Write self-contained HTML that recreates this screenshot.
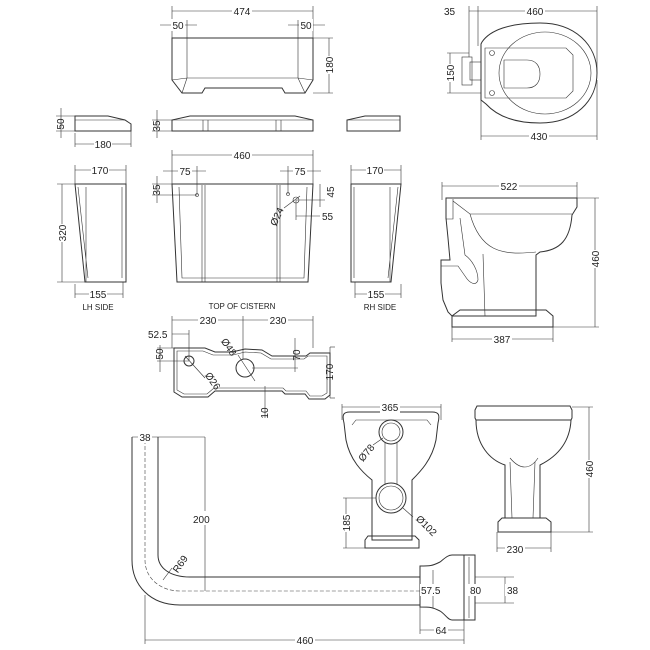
<!DOCTYPE html>
<html><head><style>
html,body{margin:0;padding:0;background:#fff;}
svg{display:block;}
text{font-family:"Liberation Sans",sans-serif;font-size:10px;fill:#222;}
.s{fill:none;stroke:#333;stroke-width:1;}
.t{fill:none;stroke:#333;stroke-width:0.6;}
.d{fill:none;stroke:#444;stroke-width:0.6;stroke-dasharray:4,2;}
</style></head><body>
<svg width="650" height="650" viewBox="0 0 650 650">
<!-- cistern lid top view -->
<path class="s" d="M172,38 H313 V80 L305,93 H285 L282,88 H205 L202,93 H182 L172,80 Z"/>
<path class="t" d="M187,38 V78 H298 V38 M187,78 L172,80 M298,78 L313,80 M187,78 L182,93 M298,78 L305,93"/>
<line class="t" x1="172" y1="11" x2="313" y2="11"/><line class="t" x1="172" y1="6" x2="172" y2="38"/><line class="t" x1="313" y1="6" x2="313" y2="38"/>
<rect x="232" y="5" width="20" height="12" fill="#fff"/><text x="242" y="15" text-anchor="middle">474</text>
<line class="t" x1="160" y1="25" x2="197" y2="25"/><line class="t" x1="187" y1="20" x2="187" y2="38"/><rect x="171" y="19" width="14" height="12" fill="#fff"/><text x="178" y="29" text-anchor="middle">50</text>
<line class="t" x1="288" y1="25" x2="325" y2="25"/><line class="t" x1="298" y1="20" x2="298" y2="38"/><rect x="299" y="19" width="14" height="12" fill="#fff"/><text x="306" y="29" text-anchor="middle">50</text>
<line class="t" x1="313" y1="38" x2="333" y2="38"/><line class="t" x1="313" y1="93" x2="333" y2="93"/><line class="t" x1="329" y1="38" x2="329" y2="93"/>
<rect x="323" y="56" width="12" height="18" fill="#fff"/><text transform="translate(333,65) rotate(-90)" text-anchor="middle">180</text>
<!-- lid side views -->
<path class="s" d="M75,131 V116 H108 L125,120 L131,124 V131 Z"/><line class="t" x1="75" y1="120" x2="125" y2="120"/>
<line class="t" x1="61" y1="108" x2="61" y2="138"/><line class="t" x1="56" y1="116" x2="75" y2="116"/><line class="t" x1="56" y1="131" x2="75" y2="131"/>
<text transform="translate(64,124) rotate(-90)" text-anchor="middle">50</text>
<line class="t" x1="75" y1="144" x2="131" y2="144"/><line class="t" x1="75" y1="133" x2="75" y2="147"/><line class="t" x1="131" y1="126" x2="131" y2="147"/>
<rect x="94" y="138" width="18" height="12" fill="#fff"/><text x="103" y="148" text-anchor="middle">180</text>
<path class="s" d="M172,131 V120 L190,116 H295 L313,120 V131 Z"/><line class="t" x1="172" y1="120" x2="313" y2="120"/>
<line class="t" x1="203" y1="120" x2="203" y2="131"/><line class="t" x1="208" y1="120" x2="208" y2="131"/><line class="t" x1="276" y1="120" x2="276" y2="131"/><line class="t" x1="281" y1="120" x2="281" y2="131"/>
<line class="t" x1="157" y1="110" x2="157" y2="138"/><line class="t" x1="152" y1="120" x2="172" y2="120"/><line class="t" x1="152" y1="131" x2="172" y2="131"/>
<text transform="translate(160,126) rotate(-90)" text-anchor="middle">35</text>
<path class="s" d="M347,131 V120 L365,116 H400 V131 Z"/><line class="t" x1="347" y1="120" x2="400" y2="120"/>
<!-- cistern front -->
<path class="s" d="M172,184 H313 L308,282 H177 Z"/>
<path class="t" d="M179,187 L182,278 H304 L307,187 M202,185 V282 M205,185 V282 M277,185 V282 M280,185 V282 M205,278 H277"/>
<circle class="t" cx="197" cy="195" r="1.5"/><circle class="t" cx="288" cy="194" r="1.5"/><circle class="t" cx="296" cy="200" r="3"/>
<line class="t" x1="172" y1="155" x2="313" y2="155"/><line class="t" x1="172" y1="150" x2="172" y2="184"/><line class="t" x1="313" y1="150" x2="313" y2="184"/>
<rect x="232" y="149" width="20" height="12" fill="#fff"/><text x="242" y="159" text-anchor="middle">460</text>
<line class="t" x1="163" y1="171" x2="206" y2="171"/><line class="t" x1="197" y1="166" x2="197" y2="195"/><rect x="178" y="165" width="14" height="12" fill="#fff"/><text x="185" y="175" text-anchor="middle">75</text>
<line class="t" x1="280" y1="171" x2="321" y2="171"/><line class="t" x1="288" y1="166" x2="288" y2="194"/><rect x="293" y="165" width="14" height="12" fill="#fff"/><text x="300" y="175" text-anchor="middle">75</text>
<line class="t" x1="157" y1="176" x2="157" y2="203"/><line class="t" x1="152" y1="184" x2="172" y2="184"/><line class="t" x1="152" y1="195" x2="197" y2="195"/>
<text transform="translate(160,190) rotate(-90)" text-anchor="middle">35</text>
<line class="t" x1="320" y1="184" x2="320" y2="207"/><line class="t" x1="296" y1="200" x2="325" y2="200"/>
<text transform="translate(334,192) rotate(-90)" text-anchor="middle">45</text>
<line class="t" x1="296" y1="200" x2="296" y2="220"/><line class="t" x1="296" y1="216" x2="320" y2="216"/><text x="322" y="220">55</text>
<line class="t" x1="284" y1="208" x2="300" y2="196"/>
<text transform="translate(280,218) rotate(-65)" text-anchor="middle">Ø24</text>
<!-- LH side -->
<path class="s" d="M75,184 H126 V282 H85 Z"/><path class="t" d="M78,187 L88,278 M86,187 V282 M122,187 V278"/>
<line class="t" x1="75" y1="170" x2="126" y2="170"/><line class="t" x1="75" y1="165" x2="75" y2="184"/><line class="t" x1="126" y1="165" x2="126" y2="184"/>
<rect x="91" y="164" width="18" height="12" fill="#fff"/><text x="100" y="174" text-anchor="middle">170</text>
<line class="t" x1="62" y1="184" x2="62" y2="282"/><line class="t" x1="57" y1="184" x2="75" y2="184"/><line class="t" x1="57" y1="282" x2="85" y2="282"/>
<rect x="56" y="224" width="12" height="18" fill="#fff"/><text transform="translate(66,233) rotate(-90)" text-anchor="middle">320</text>
<line class="t" x1="75" y1="294" x2="123" y2="294"/><line class="t" x1="75" y1="284" x2="75" y2="298"/><line class="t" x1="123" y1="282" x2="123" y2="298"/>
<rect x="89" y="288" width="18" height="12" fill="#fff"/><text x="98" y="298" text-anchor="middle">155</text>
<text x="98" y="310" text-anchor="middle" style="font-size:8px">LH SIDE</text>
<text x="242" y="309" text-anchor="middle" style="font-size:8px">TOP OF CISTERN</text>
<text x="380" y="310" text-anchor="middle" style="font-size:8px">RH SIDE</text>
<!-- RH side -->
<path class="s" d="M351,184 H401 L391,282 H351 Z"/><path class="t" d="M354,187 V278 M390,187 V282 M398,187 L388,278"/>
<line class="t" x1="351" y1="170" x2="401" y2="170"/><line class="t" x1="351" y1="165" x2="351" y2="184"/><line class="t" x1="401" y1="165" x2="401" y2="184"/>
<rect x="366" y="164" width="18" height="12" fill="#fff"/><text x="375" y="174" text-anchor="middle">170</text>
<line class="t" x1="355" y1="294" x2="401" y2="294"/><line class="t" x1="355" y1="282" x2="355" y2="298"/><line class="t" x1="401" y1="284" x2="401" y2="298"/>
<rect x="367" y="288" width="18" height="12" fill="#fff"/><text x="376" y="298" text-anchor="middle">155</text>
<!-- top of cistern plan -->
<path class="s" d="M174,348 H205 L215,352 H232 L245,349 L262,350 L272,356 H306 L310,353 H330 V395 L325,399 L309,399 L305,394 H285 L282,391 H215 L208,397 H182 L174,392 Z"/>
<path class="t" d="M177,351 H203 L213,355 H233 L245,352 L261,353 L271,359 H304 L308,356 H327 V393 L322,396 H310 L306,391 H286 L283,388 H214 L207,394 H184 L177,390 Z"/>
<circle class="s" cx="189" cy="361" r="5"/><circle class="s" cx="245" cy="368" r="9"/>
<line class="t" x1="172" y1="320" x2="313" y2="320"/><line class="t" x1="172" y1="316" x2="172" y2="348"/><line class="t" x1="243" y1="316" x2="243" y2="359"/><line class="t" x1="313" y1="316" x2="313" y2="348"/>
<rect x="198" y="314" width="20" height="12" fill="#fff"/><text x="208" y="324" text-anchor="middle">230</text>
<rect x="268" y="314" width="20" height="12" fill="#fff"/><text x="278" y="324" text-anchor="middle">230</text>
<line class="t" x1="172" y1="334" x2="189" y2="334"/><line class="t" x1="189" y1="330" x2="189" y2="361"/><text x="148" y="338">52.5</text>
<line class="t" x1="160" y1="345" x2="160" y2="372"/><line class="t" x1="157" y1="348" x2="176" y2="348"/><line class="t" x1="157" y1="361" x2="189" y2="361"/>
<text transform="translate(163,354) rotate(-90)" text-anchor="middle">50</text>
<line class="t" x1="185" y1="356" x2="205" y2="378"/><text transform="translate(210,383) rotate(55)" text-anchor="middle">Ø26</text>
<line class="t" x1="238" y1="355" x2="255" y2="381"/><text transform="translate(226,349) rotate(55)" text-anchor="middle">Ø48</text>
<line class="t" x1="295" y1="338" x2="295" y2="372"/><line class="t" x1="252" y1="368" x2="298" y2="368"/><text transform="translate(300,355) rotate(-90)" text-anchor="middle">70</text>
<line class="t" x1="265" y1="386" x2="265" y2="418"/><text transform="translate(268,413) rotate(-90)" text-anchor="middle">10</text>
<line class="t" x1="330" y1="347" x2="335" y2="347"/><line class="t" x1="330" y1="398" x2="335" y2="398"/><line class="t" x1="330" y1="347" x2="330" y2="398"/>
<text transform="translate(333,372) rotate(-90)" text-anchor="middle">170</text>
<!-- toilet top view -->
<path class="s" d="M482,42 C490,30 510,23 540,23 C575,23 597,45 597,73 C597,101 575,123 540,123 C515,123 497,116 486,104 L481,100 V44 Z"/>
<ellipse class="t" cx="545" cy="73" rx="46" ry="41"/>
<path class="t" d="M485,48 H566 L573,55 V91 L566,98 H485 Z"/>
<path class="t" d="M504,60 H527 C536,60 540,66 540,74 C540,82 536,88 527,88 H504 Z"/>
<circle class="t" cx="492" cy="53" r="2.5"/><circle class="t" cx="492" cy="93" r="2.5"/>
<rect class="t" x="462" y="57" width="10" height="28"/><rect class="t" x="470" y="62" width="11" height="18"/>
<line class="t" x1="469" y1="11" x2="597" y2="11"/><line class="t" x1="469" y1="6" x2="469" y2="57"/><line class="t" x1="478" y1="6" x2="478" y2="46"/><line class="t" x1="597" y1="6" x2="597" y2="73"/>
<text x="444" y="15">35</text><rect x="525" y="5" width="20" height="12" fill="#fff"/><text x="535" y="15" text-anchor="middle">460</text>
<line class="t" x1="450" y1="53" x2="450" y2="93"/><line class="t" x1="447" y1="53" x2="469" y2="53"/><line class="t" x1="447" y1="93" x2="481" y2="93"/>
<rect x="444" y="64" width="12" height="18" fill="#fff"/><text transform="translate(454,73) rotate(-90)" text-anchor="middle">150</text>
<line class="t" x1="481" y1="136" x2="597" y2="136"/><line class="t" x1="481" y1="100" x2="481" y2="140"/><line class="t" x1="597" y1="80" x2="597" y2="140"/>
<rect x="529" y="130" width="20" height="12" fill="#fff"/><text x="539" y="140" text-anchor="middle">430</text>
<!-- toilet side view -->
<path class="s" d="M446,198 H577 V207 L572,215 C570,240 560,250 540,252 L536,255 V316 H452 L448,312 L443,300 L441,283 V260 L450,260 L448,238 L446,218 Z"/>
<path class="t" d="M446,199 V219 H453 V199 M453,201 L470,214 H572 M470,214 C480,250 500,256 536,252 M483,254 L485,316 M460,218 L465,255 C472,260 478,270 478,280 C476,286 470,284 465,276 L458,266 L441,266"/>
<path class="s" d="M452,316 V327 H553 V316 L546,310 H460 Z"/>
<line class="t" x1="442" y1="186" x2="577" y2="186"/><line class="t" x1="442" y1="182" x2="442" y2="200"/><line class="t" x1="577" y1="182" x2="577" y2="198"/>
<rect x="499" y="180" width="20" height="12" fill="#fff"/><text x="509" y="190" text-anchor="middle">522</text>
<line class="t" x1="595" y1="198" x2="595" y2="327"/><line class="t" x1="577" y1="198" x2="599" y2="198"/><line class="t" x1="553" y1="327" x2="599" y2="327"/>
<rect x="589" y="250" width="12" height="18" fill="#fff"/><text transform="translate(599,259) rotate(-90)" text-anchor="middle">460</text>
<line class="t" x1="452" y1="339" x2="553" y2="339"/><line class="t" x1="452" y1="327" x2="452" y2="342"/><line class="t" x1="553" y1="327" x2="553" y2="342"/>
<rect x="492" y="333" width="20" height="12" fill="#fff"/><text x="502" y="343" text-anchor="middle">387</text>
<!-- toilet front view -->
<path class="s" d="M344,423 C342,415 343,412 350,412 H432 C439,412 440,415 438,423 L436,440 C432,460 420,472 412,480 V540 H372 V480 C362,472 350,460 346,440 Z"/>
<path class="t" d="M352,425 L356,420 H427 L431,425 M385,443 V485 M397,443 V485"/>
<circle class="s" cx="391" cy="432" r="12"/><circle class="t" cx="391" cy="432" r="9"/>
<circle class="s" cx="391" cy="498" r="15"/><circle class="t" cx="391" cy="498" r="12"/>
<path class="s" d="M365,548 V540 L368,536 H415 L419,540 V548 Z"/>
<line class="t" x1="342" y1="407" x2="441" y2="407"/><line class="t" x1="342" y1="404" x2="342" y2="420"/><line class="t" x1="441" y1="404" x2="441" y2="420"/>
<rect x="380" y="401" width="20" height="12" fill="#fff"/><text x="390" y="411" text-anchor="middle">365</text>
<line class="t" x1="373" y1="445" x2="383" y2="438"/><text transform="translate(369,455) rotate(-50)" text-anchor="middle">Ø78</text>
<line class="t" x1="403" y1="508" x2="413" y2="517"/><text transform="translate(424,528) rotate(45)" text-anchor="middle">Ø102</text>
<line class="t" x1="346" y1="498" x2="346" y2="548"/><line class="t" x1="343" y1="498" x2="376" y2="498"/><line class="t" x1="343" y1="548" x2="365" y2="548"/>
<rect x="341" y="514" width="10" height="18" fill="#fff"/><text transform="translate(350,523) rotate(-90)" text-anchor="middle">185</text>
<!-- toilet right side front -->
<path class="s" d="M477,406 H570 L572,410 V418 L571,420 H476 L475,418 V410 Z"/>
<path class="s" d="M476,420 C476,445 490,460 505,465 V518 H540 V465 C560,455 570,440 571,420"/>
<path class="t" d="M510,458 C520,470 530,470 538,458 M510,462 L512,518 M535,462 L533,518"/>
<path class="s" d="M498,532 V522 L502,518 H546 L551,522 V532 Z"/>
<line class="t" x1="589" y1="407" x2="589" y2="532"/><line class="t" x1="572" y1="407" x2="593" y2="407"/><line class="t" x1="551" y1="532" x2="593" y2="532"/>
<rect x="583" y="460" width="12" height="18" fill="#fff"/><text transform="translate(593,469) rotate(-90)" text-anchor="middle">460</text>
<line class="t" x1="497" y1="548" x2="551" y2="548"/><line class="t" x1="497" y1="532" x2="497" y2="552"/><line class="t" x1="551" y1="532" x2="551" y2="552"/>
<rect x="505" y="543" width="20" height="12" fill="#fff"/><text x="515" y="553" text-anchor="middle">230</text>
<!-- flush pipe -->
<path class="s" d="M132,437 V560 C132,585 150,605 180,605 H420"/>
<path class="s" d="M158,437 V555 C158,568 170,577 190,577 H420"/>
<path class="d" d="M145,440 V560 C145,578 160,591 180,591 H420"/>
<path class="s" d="M420,566 C430,566 432,566 440,562 C445,558 448,555 452,555 H464 V620 H452 C448,620 445,614 440,611 C432,607 430,607 420,607 Z"/>
<rect class="s" x="464" y="555" width="11" height="65"/>
<line class="t" x1="475" y1="577" x2="514" y2="577"/><line class="t" x1="475" y1="603" x2="514" y2="603"/>
<line class="t" x1="132" y1="437" x2="158" y2="437"/><rect x="138" y="431" width="14" height="12" fill="#fff"/><text x="145" y="441" text-anchor="middle">38</text>
<line class="t" x1="205" y1="437" x2="205" y2="591"/><line class="t" x1="158" y1="437" x2="205" y2="437"/>
<rect x="192" y="511" width="20" height="14" fill="#fff"/><text x="193" y="523">200</text>
<line class="t" x1="163" y1="580" x2="172" y2="568"/><text transform="translate(183,566) rotate(-55)" text-anchor="middle">R69</text>
<line class="t" x1="433" y1="570" x2="433" y2="608"/><rect x="420" y="584" width="26" height="12" fill="#fff"/><text x="421" y="594">57.5</text>
<line class="t" x1="469" y1="557" x2="469" y2="618"/><rect x="468" y="584" width="14" height="12" fill="#fff"/><text x="470" y="594">80</text>
<line class="t" x1="505" y1="577" x2="505" y2="603"/><rect x="505" y="584" width="14" height="12" fill="#fff"/><text x="507" y="594">38</text>
<line class="t" x1="420" y1="630" x2="464" y2="630"/><line class="t" x1="420" y1="607" x2="420" y2="634"/><line class="t" x1="464" y1="620" x2="464" y2="644"/>
<rect x="434" y="624" width="14" height="12" fill="#fff"/><text x="441" y="634" text-anchor="middle">64</text>
<line class="t" x1="145" y1="640" x2="464" y2="640"/><line class="t" x1="145" y1="595" x2="145" y2="644"/>
<rect x="295" y="634" width="20" height="12" fill="#fff"/><text x="305" y="644" text-anchor="middle">460</text>
</svg>
</body></html>
